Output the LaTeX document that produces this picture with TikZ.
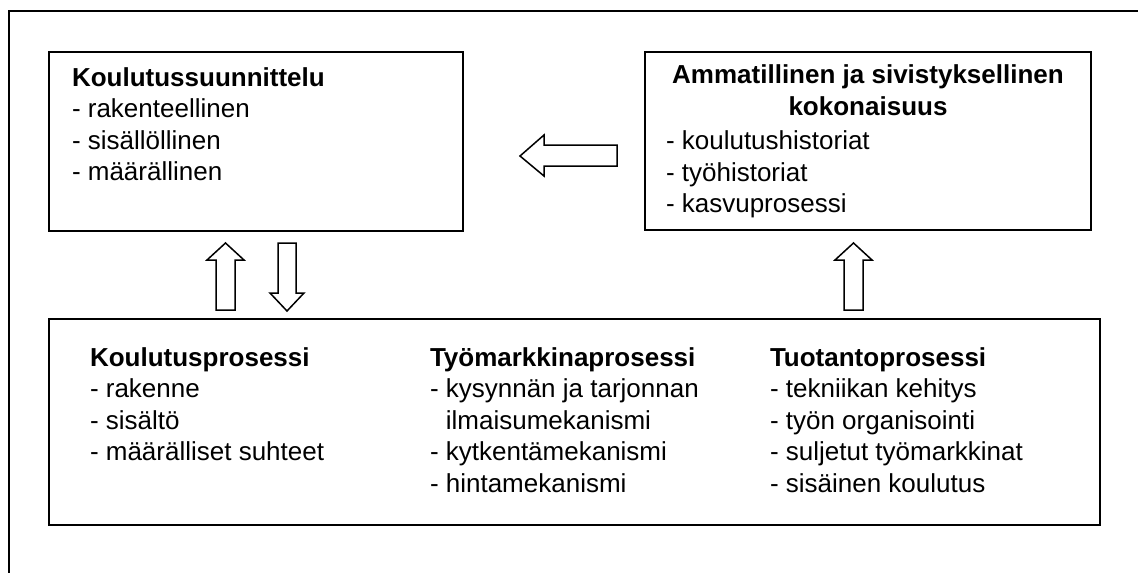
\documentclass[tikz,border=0pt]{standalone}
\usepackage{fontspec}
\setmainfont{Liberation Sans}
\begin{document}
\begin{tikzpicture}[x=1pt,y=-1pt,
  box/.style={draw,line width=1.8pt,rectangle,inner sep=0pt},
  txt/.style={inner sep=0pt,outer sep=0pt,anchor=base west,font=\fontsize{26}{31.5}\selectfont},
  ctxt/.style={txt,anchor=base},
  blockarrow/.style={draw,line width=1.5pt,line join=miter,fill=white}]
\useasboundingbox (0,0) rectangle (1138,573);
% outer frame (only left and top edges visible)
\draw[line width=1.8pt] (9,580) -- (9,11) -- (1145,11);
% boxes
\node[box,minimum width=414pt,minimum height=179pt] (plan) at (256,141.5) {};
\node[box,minimum width=446pt,minimum height=178pt] (whole) at (868,141) {};
\node[box,minimum width=1051pt,minimum height=206pt] (proc) at (574.5,422) {};
% texts box 1
\node[txt] (plantxt) at (72,86) {\vtop{\hbox{\bfseries Koulutussuunnittelu}\hbox{- rakenteellinen}\hbox{- sisällöllinen}\hbox{- määrällinen}}};
% texts box 2
\node[ctxt] (wholetitle) at (868,83.5) {\vtop{\halign{\hfil\bfseries#\hfil\cr Ammatillinen ja sivistyksellinen\cr kokonaisuus\cr}}};
\node[txt] (wholetxt) at (666,149.5) {\vtop{\hbox{- koulutushistoriat}\hbox{- työhistoriat}\hbox{- kasvuprosessi}}};
% texts box 3
\node[txt] (c1) at (90,366) {\vtop{\hbox{\bfseries Koulutusprosessi}\hbox{- rakenne}\hbox{- sisältö}\hbox{- määrälliset suhteet}}};
\node[txt] (c2) at (430,366) {\vtop{\hbox{\bfseries Työmarkkinaprosessi}\hbox{- kysynnän ja tarjonnan}\hbox{\hphantom{- }ilmaisumekanismi}\hbox{- kytkentämekanismi}\hbox{- hintamekanismi}}};
\node[txt] (c3) at (770,366) {\vtop{\hbox{\bfseries Tuotantoprosessi}\hbox{- tekniikan kehitys}\hbox{- työn organisointi}\hbox{- suljetut työmarkkinat}\hbox{- sisäinen koulutus}}};
% block arrows
\coordinate (aL) at (520,156);
\draw[blockarrow] (aL) -- ++(24,-21) -- ++(0,10) -- ++(73,0) -- ++(0,21) -- ++(-73,0) -- ++(0,10) -- cycle;
\coordinate (aU1) at (225.5,243);
\draw[blockarrow] (aU1) -- ++(18.5,17) -- ++(-9,0) -- ++(0,50) -- ++(-19,0) -- ++(0,-50) -- ++(-9,0) -- cycle;
\coordinate (aD1) at (287,311);
\draw[blockarrow] (aD1) -- ++(17,-18) -- ++(-8,0) -- ++(0,-50) -- ++(-18,0) -- ++(0,50) -- ++(-8,0) -- cycle;
\coordinate (aU2) at (853.5,243);
\draw[blockarrow] (aU2) -- ++(18.5,17) -- ++(-9,0) -- ++(0,50) -- ++(-19,0) -- ++(0,-50) -- ++(-9,0) -- cycle;
\end{tikzpicture}
\end{document}
